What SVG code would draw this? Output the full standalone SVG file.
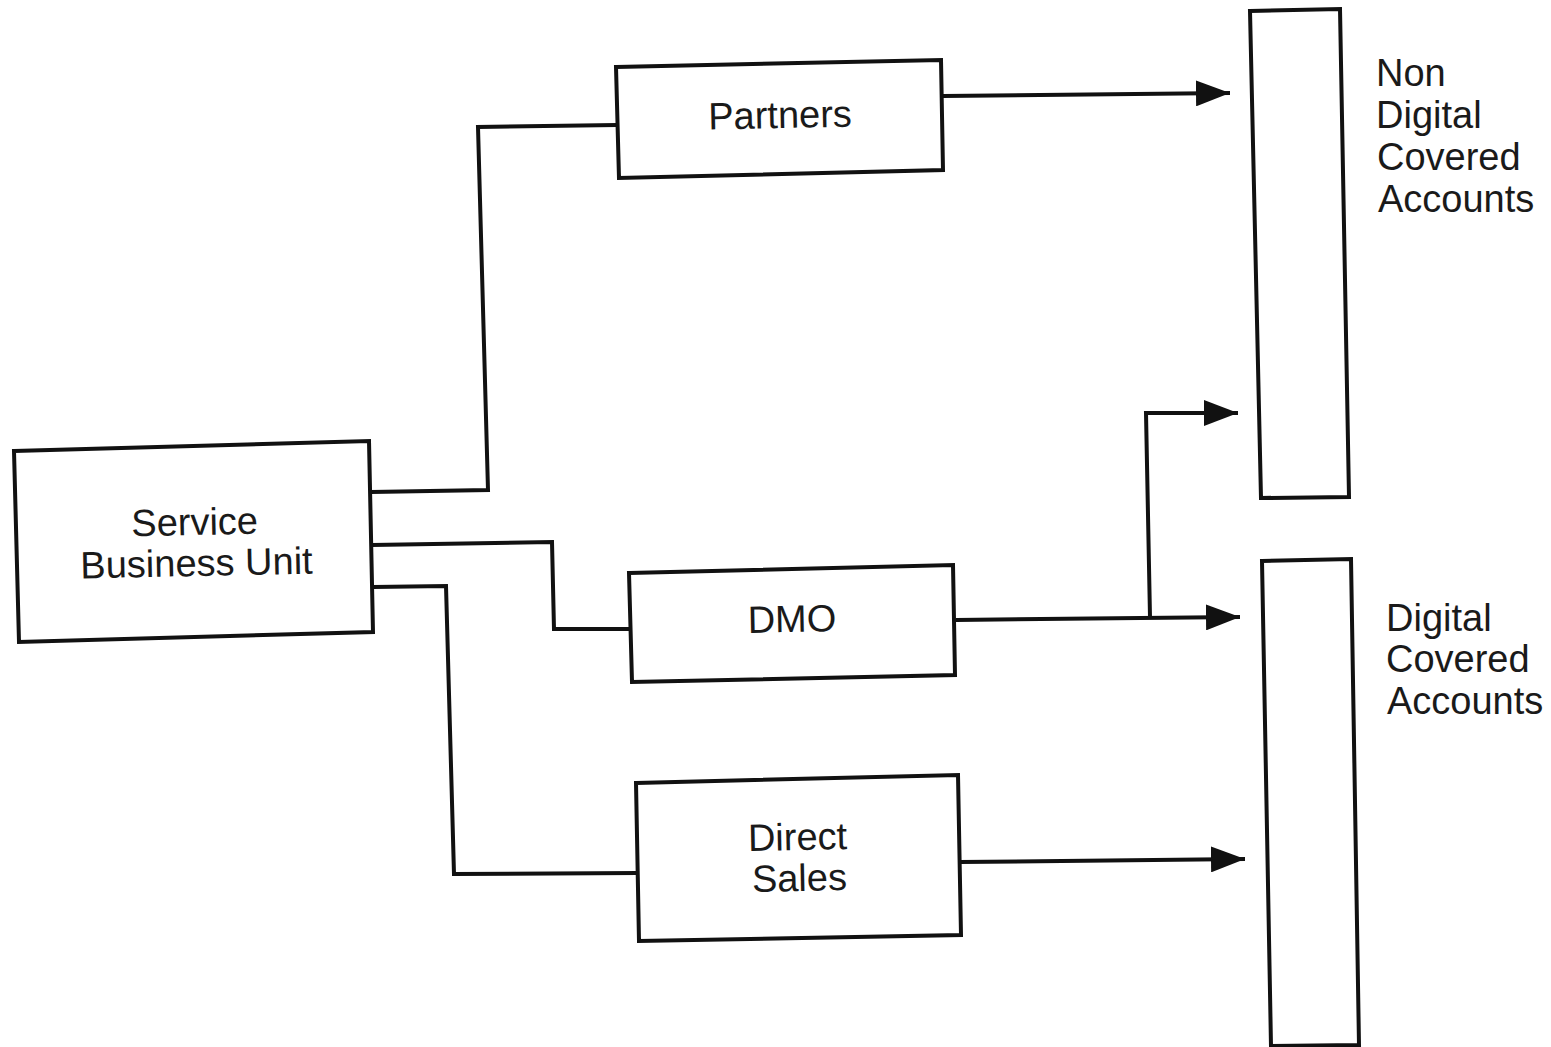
<svg xmlns="http://www.w3.org/2000/svg" width="1551" height="1047" viewBox="0 0 1551 1047">
  <style>
    .box { fill: #ffffff; stroke: #111111; stroke-width: 4; stroke-linejoin: miter; }
    .wire { fill: none; stroke: #111111; stroke-width: 4; stroke-linejoin: miter; }
    .lbl { font-family: "Liberation Sans", Arial, sans-serif; font-size: 38px; fill: #1a1a1a; }
    .mid { text-anchor: middle; }
  </style>
  <defs>
    <marker id="arrow" markerUnits="userSpaceOnUse" markerWidth="36" markerHeight="26" refX="34" refY="13" orient="auto">
      <path d="M0,0 L34,13 L0,26 Z" fill="#111111"/>
    </marker>
  </defs>
  <rect width="1551" height="1047" fill="#ffffff"/>

  <!-- connectors -->
  <g id="connectors">
    <polyline class="wire" points="371,492 488,490 478,127 617,125"/>
    <polyline class="wire" points="372,545 552,542 554,629 631,629"/>
    <polyline class="wire" points="373,587 446,586 454,874 638,873"/>
    <polyline class="wire" points="943,96 1230,93" marker-end="url(#arrow)"/>
    <polyline class="wire" points="956,620 1240,617" marker-end="url(#arrow)"/>
    <polyline class="wire" points="1150,617 1146,413 1238,413" marker-end="url(#arrow)"/>
    <polyline class="wire" points="960,862 1245,859" marker-end="url(#arrow)"/>
  </g>

  <!-- source unit -->
  <g id="service-business-unit">
    <polygon class="box" points="14,451 369,441 373,632 19,642"/>
    <text class="lbl mid" transform="rotate(-1.2 195 540)" x="195" y="535">Service</text>
    <text class="lbl mid" transform="rotate(-1.2 195 540)" x="196" y="576">Business Unit</text>
  </g>

  <!-- channels -->
  <g id="partners">
    <polygon class="box" points="616,67 941,60 943,170 619,178"/>
    <text class="lbl mid" transform="rotate(-1.2 780 115)" x="780" y="128">Partners</text>
  </g>
  <g id="dmo">
    <polygon class="box" points="629,573 953,565 955,675 632,682"/>
    <text class="lbl mid" transform="rotate(-1.2 792 620)" x="792" y="632">DMO</text>
  </g>
  <g id="direct-sales">
    <polygon class="box" points="636,783 958,775 961,935 639,941"/>
    <text class="lbl mid" transform="rotate(-1.2 798 860)" x="798" y="850">Direct</text>
    <text class="lbl mid" transform="rotate(-1.2 798 860)" x="799" y="891">Sales</text>
  </g>

  <!-- account targets -->
  <g id="non-digital-covered-accounts">
    <polygon class="box" points="1250,11 1340,9 1349,497 1261,498"/>
    <text class="lbl" x="1376" y="86">Non</text>
    <text class="lbl" x="1376" y="128">Digital</text>
    <text class="lbl" x="1377" y="170">Covered</text>
    <text class="lbl" x="1378" y="212">Accounts</text>
  </g>
  <g id="digital-covered-accounts">
    <polygon class="box" points="1262,561 1351,559 1359,1045 1271,1046"/>
    <text class="lbl" x="1386" y="631">Digital</text>
    <text class="lbl" x="1386" y="672">Covered</text>
    <text class="lbl" x="1387" y="714">Accounts</text>
  </g>
</svg>
